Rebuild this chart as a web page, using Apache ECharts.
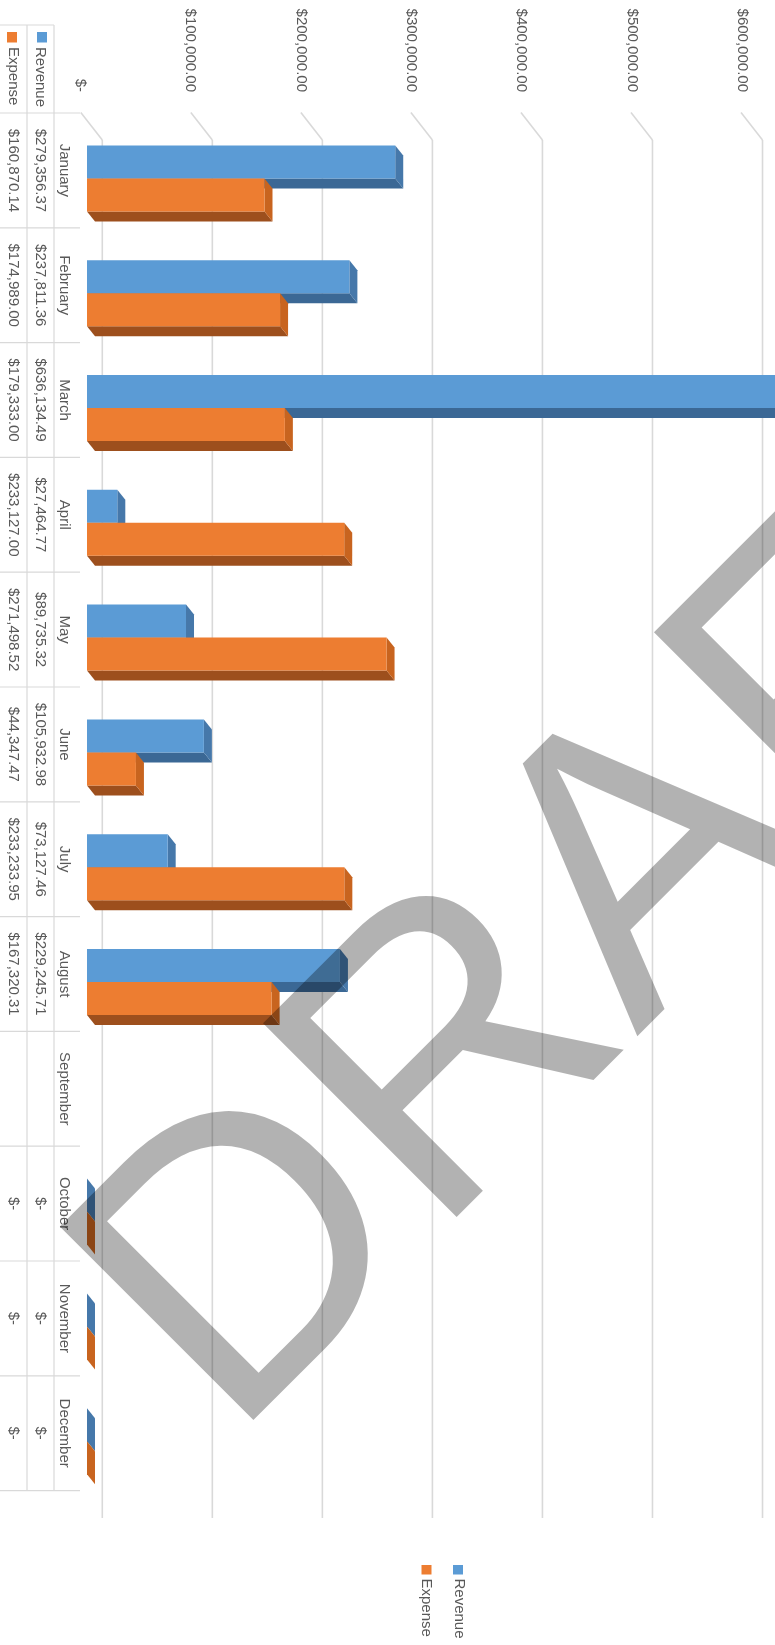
<!DOCTYPE html>
<html>
<head>
<meta charset="utf-8">
<script src="https://cdn.jsdelivr.net/npm/echarts/dist/echarts.min.js"></script>
<style>
html,body{margin:0;padding:0;background:#ffffff;overflow:hidden}
#chart{width:775px;height:1645px}
</style>
</head>
<body>
<div id="chart"></div>
<script>
// ---------------- data ----------------
const months = ['January','February','March','April','May','June','July','August','September','October','November','December'];
const seriesNames = ['Revenue','Expense'];
const revenue = [279356.37, 237811.36, 636134.49, 27464.77, 89735.32, 105932.98, 73127.46, 229245.71, null, 0, 0, 0];
const expense = [160870.14, 174989.00, 179333.00, 233127.00, 271498.52, 44347.47, 233233.95, 167320.31, null, 0, 0, 0];
const valueTicks = [0, 100000, 200000, 300000, 400000, 500000, 600000];
const tickLabels = ['$-', '$100,000.00', '$200,000.00', '$300,000.00', '$400,000.00', '$500,000.00', '$600,000.00'];
const watermark = 'DRAFT';

// ---------------- style ----------------
const FONT = '"Liberation Sans", Arial, sans-serif';
const TXT = '#595959';
const GRIDC = '#d9d9d9';
const COLORS = [
  {face:'#5b9bd5', end:'#4678aa', side:'#3b6895'},
  {face:'#ed7d31', end:'#c8641f', side:'#9d4f1d'}
];
const BAR_W = 33, DX = 8, DY = 10, SHIFT_X = 7, SHIFT_Y = 8;

function fmt(v){
  if (v === null || v === undefined) return '';
  if (v === 0) return '$-';
  const p = v.toFixed(2).split('.');
  return '$' + p[0].replace(/\B(?=(\d{3})+(?!\d))/g, ',') + '.' + p[1];
}

function rtext(x, y, text, align, size){
  return {type:'text', x:x, y:y, rotation:-Math.PI/2,
    style:{text:text, fill:TXT, fontSize:size||15, fontFamily:FONT, align:align||'center', verticalAlign:'middle'}};
}

function barRenderer(sIdx){
  const col = COLORS[sIdx];
  return function(params, api){
    const v = api.value(0), c = api.value(1);
    if (v === null || isNaN(v)) return;
    const p0 = api.coord([0, c]), p1 = api.coord([v, c]);
    const cy = p0[1] + SHIFT_Y;
    const x0 = p0[0] + SHIFT_X, x1 = p1[0] + SHIFT_X;
    const yT = sIdx === 0 ? cy - BAR_W : cy, yB = yT + BAR_W;
    return {type:'group', children:[
      {type:'polygon', shape:{points:[[x0,yB],[x1,yB],[x1+DX,yB+DY],[x0+DX,yB+DY]]}, style:{fill:col.side}},
      {type:'polygon', shape:{points:[[x1,yT],[x1+DX,yT+DY],[x1+DX,yB+DY],[x1,yB]]}, style:{fill:col.end}},
      {type:'rect', shape:{x:x0, y:yT, width:Math.max(0, x1-x0), height:BAR_W}, style:{fill:col.face}}
    ]};
  };
}

function wallRenderer(params, api){
  const cs = params.coordSys;
  const v = api.value(0);
  const x0 = api.coord([0, 0])[0];
  const cx = api.coord([v, 0])[0];
  const xb = x0 + 22.3 + (cx - x0) * 0.9973;
  const yTop = cs.y + 27, yBot = cs.y + cs.height + 27.4;
  return {type:'group', children:[
    {type:'line', shape:{x1:xb, y1:yTop, x2:xb, y2:yBot}, style:{stroke:GRIDC, lineWidth:1.6}},
    {type:'line', shape:{x1:xb, y1:yTop, x2:xb-21.5, y2:cs.y-0.5}, style:{stroke:GRIDC, lineWidth:1.6}}
  ]};
}

function tableRenderer(params, api){
  const cs = params.coordSys;
  const i = api.value(1);
  const band = api.size([0, 1])[1];
  const yA = cs.y + i * band, yC = yA + band / 2;
  const ln = (x1,y1,x2,y2) => ({type:'line', shape:{x1:x1,y1:y1,x2:x2,y2:y2}, style:{stroke:GRIDC, lineWidth:1.2}});
  const ch = [
    ln(0, yA, 80, yA),
    rtext(64.5, yC, months[i]),
    rtext(40.5, yC, fmt(revenue[i])),
    rtext(12.8, yC, fmt(expense[i]))
  ];
  if (i === months.length - 1) ch.push(ln(0, yA + band, 80, yA + band));
  if (i === 0) {
    const yEnd = cs.y + cs.height;
    ch.push(ln(27, 25, 27, yEnd));
    ch.push(ln(54, 25, 54, yEnd));
    ch.push(ln(0, 25, 54, 25));
    ch.push({type:'rect', shape:{x:37, y:32, width:10, height:10.5}, style:{fill:COLORS[0].face}});
    ch.push({type:'rect', shape:{x:7, y:32, width:10, height:10.5}, style:{fill:COLORS[1].face}});
    ch.push(rtext(40.2, 47, seriesNames[0], 'left'));
    ch.push(rtext(12.8, 47, seriesNames[1], 'left'));
  }
  return {type:'group', children:ch};
}

const chart = echarts.init(document.getElementById('chart'), null, {renderer:'canvas'});
chart.setOption({
  animation:false,
  backgroundColor:'#ffffff',
  grid:{left:80, right:33, top:113, bottom:154.4, containLabel:false},
  xAxis:{
    type:'value', position:'top', min:0, max:600000, interval:100000,
    axisLine:{show:false}, axisTick:{show:false}, splitLine:{show:false},
    axisLabel:{rotate:90, margin:21, color:TXT, fontSize:15, fontFamily:FONT,
      formatter:function(v){ const k = valueTicks.indexOf(v); return k >= 0 ? tickLabels[k] : ''; }}
  },
  yAxis:{
    type:'category', inverse:true, data:months,
    axisLine:{show:false}, axisTick:{show:false}, axisLabel:{show:false}, splitLine:{show:false}
  },
  series:[
    {type:'custom', name:'walls', clip:false, z:1, silent:true,
      data:valueTicks.map(v => [v, 0]), renderItem:wallRenderer},
    {type:'custom', name:seriesNames[0], clip:false, z:2,
      data:revenue.map((v,i) => [v, i]), renderItem:barRenderer(0)},
    {type:'custom', name:seriesNames[1], clip:false, z:3,
      data:expense.map((v,i) => [v, i]), renderItem:barRenderer(1)},
    {type:'custom', name:'table', clip:false, z:4, silent:true,
      data:months.map((m,i) => [0, i]), renderItem:tableRenderer}
  ],
  graphic:[
    {type:'rect', left:453, top:1565, shape:{width:10, height:9.5}, style:{fill:COLORS[0].face}, z:5},
    {type:'rect', left:421.5, top:1565, shape:{width:10, height:9.5}, style:{fill:COLORS[1].face}, z:5},
    {type:'text', x:459.5, y:1578.5, rotation:-Math.PI/2, z:5,
      style:{text:seriesNames[0], fill:TXT, fontSize:15, fontFamily:FONT, align:'left', verticalAlign:'middle'}},
    {type:'text', x:426.5, y:1578.5, rotation:-Math.PI/2, z:5,
      style:{text:seriesNames[1], fill:TXT, fontSize:15, fontFamily:FONT, align:'left', verticalAlign:'middle'}},
    {type:'text', x:152.7, y:1365.6, rotation:Math.PI/4, z:100, silent:true,
      style:{text:watermark, fill:'rgba(0,0,0,0.3)', fontSize:398, fontFamily:FONT, align:'left', verticalAlign:'middle'}}
  ]
});
</script>
</body>
</html>
